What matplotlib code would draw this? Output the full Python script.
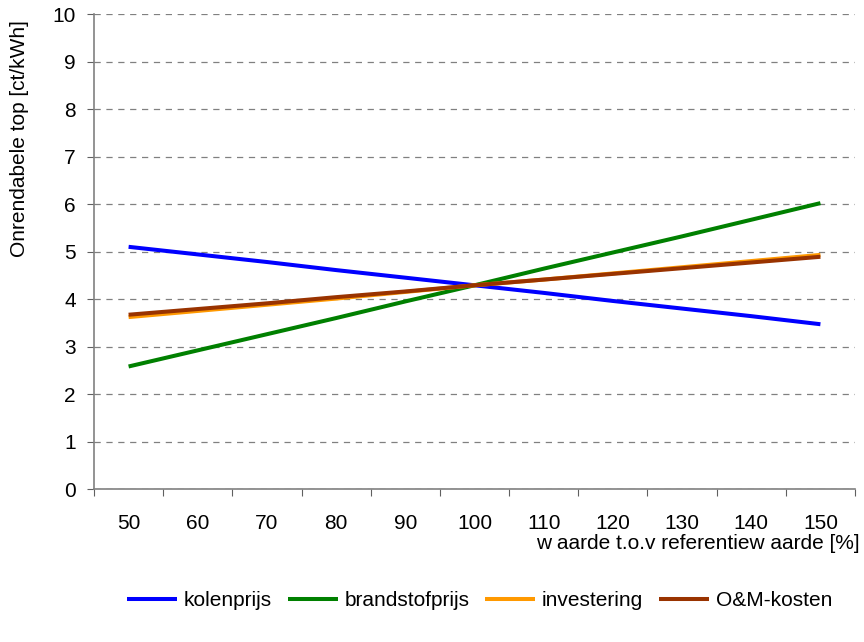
import matplotlib.pyplot as plt
import numpy as np

plt.rcParams['font.family'] = ['Liberation Sans', 'DejaVu Sans']

# gevoeligheid onrendabele top per parameter
categories = [50, 60, 70, 80, 90, 100, 110, 120, 130, 140, 150]
kolenprijs = [5.10, 4.94, 4.78, 4.61, 4.45, 4.29, 4.13, 3.96, 3.80, 3.64, 3.47]
brandstofprijs = [2.58, 2.92, 3.26, 3.60, 3.95, 4.29, 4.64, 4.98, 5.32, 5.67, 6.02]
investering = [3.62, 3.75, 3.88, 4.01, 4.15, 4.29, 4.41, 4.54, 4.67, 4.80, 4.93]
om_kosten = [3.67, 3.79, 3.91, 4.04, 4.16, 4.29, 4.41, 4.53, 4.65, 4.77, 4.89]

series = [
    ('kolenprijs', kolenprijs, '#0000FF'),
    ('brandstofprijs', brandstofprijs, '#008000'),
    ('investering', investering, '#FF9900'),
    ('O&M-kosten', om_kosten, '#993300'),
]

fs = 15

fig = plt.figure(figsize=(8.64, 6.42), dpi=100)
ax = fig.add_axes([0.1088, 0.2383, 0.8808, 0.7397])

ind = np.arange(len(categories))
for name, vals, col in series:
    ax.plot(ind, vals, color=col, lw=2.9, label=name, solid_capstyle='butt')

ax.set_xlim(-0.5, len(categories) - 0.5)
ax.set_ylim(0, 10)
ax.set_yticks(range(0, 11))
ax.yaxis.grid(True, linestyle=(0, (5, 4.5)), color='#808080', lw=0.9)
ax.set_axisbelow(True)

# category axis: ticks on the boundaries, labels in the middle
ax.set_xticks(np.arange(-0.5, len(categories), 1.0))
ax.set_xticklabels([])
ax.set_xticks(ind, minor=True)
ax.set_xticklabels([str(c) for c in categories], minor=True)
ax.tick_params(axis='x', which='minor', length=0, pad=18, labelsize=fs)
ax.tick_params(axis='x', which='major', length=5, direction='out', color='#606060')
ax.tick_params(axis='y', length=5, direction='out', color='#606060', labelsize=fs, pad=8)

for s in ['top', 'right']:
    ax.spines[s].set_visible(False)
for s in ['left', 'bottom']:
    ax.spines[s].set_color('#808080')
    ax.spines[s].set_linewidth(1.2)

# y label sits high, near the top of the axis
ax.set_ylabel('Onrendabele top [ct/kWh]', fontsize=fs)
ax.yaxis.set_label_coords(-0.085, 0.739)
fig.text(0.995, 0.154, 'w aarde t.o.v referentiew aarde [%]', fontsize=fs,
         ha='right', va='center')

fig.legend(loc='center', bbox_to_anchor=(0.555, 0.064), ncol=4, frameon=False,
           fontsize=fs, handlelength=2.4, handletextpad=0.33, columnspacing=0.75)

fig.savefig('out.png', dpi=100)
